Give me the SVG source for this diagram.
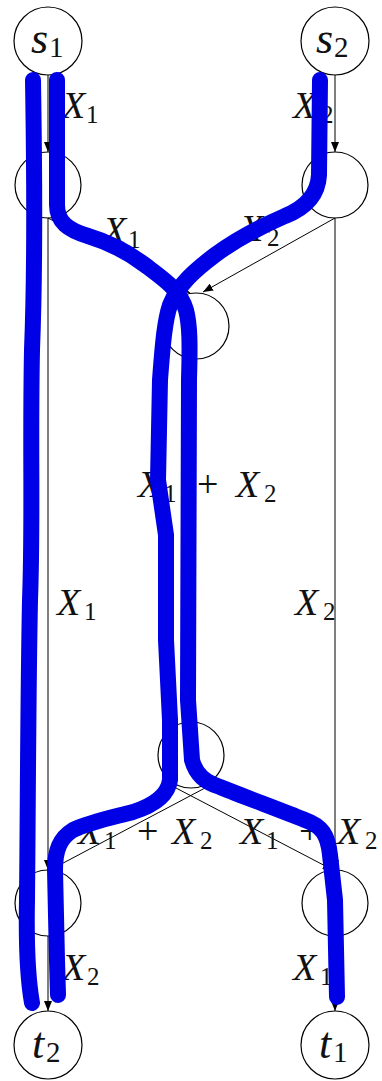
<svg xmlns="http://www.w3.org/2000/svg" width="382" height="1081" viewBox="0 0 382 1081">
<style>
.n{fill:none;stroke:#000;stroke-width:1.2}
.e{fill:none;stroke:#000;stroke-width:1;marker-end:url(#ah)}
text{font-family:'Liberation Serif','Times New Roman',serif;fill:#111}
.v{font-style:italic;font-size:38px}
.s{font-size:25px}
.p{font-size:38px}
.nv{font-style:italic;font-size:44px}
.ns{font-size:29px}
.b{fill:none;stroke:#0000e6;stroke-width:16;stroke-linecap:round;stroke-linejoin:round}
</style>
<defs>
<marker id="ah" markerUnits="userSpaceOnUse" markerWidth="10" markerHeight="8" refX="10" refY="4" orient="auto">
<path d="M0,0 L10,4 L0,8 z" fill="#000"/>
</marker>
</defs>
<rect width="382" height="1081" fill="#fff"/>
<g id="s1"><circle class="n" cx="48" cy="41" r="34"/><text x="31" y="53"><tspan class="nv">s</tspan><tspan class="ns" x="49" y="57">1</tspan></text></g>
<g id="s2"><circle class="n" cx="335" cy="41" r="34"/><text x="316" y="53"><tspan class="nv">s</tspan><tspan class="ns" x="334" y="57">2</tspan></text></g>
<g id="a"><circle class="n" cx="48" cy="185" r="33"/></g>
<g id="b"><circle class="n" cx="335" cy="185" r="33"/></g>
<g id="c"><circle class="n" cx="196" cy="326" r="33"/></g>
<g id="d"><circle class="n" cx="191" cy="755" r="33"/></g>
<g id="e"><circle class="n" cx="48" cy="903" r="33"/></g>
<g id="f"><circle class="n" cx="335" cy="903" r="33"/></g>
<g id="t2"><circle class="n" cx="48" cy="1045" r="34"/><text x="32" y="1058"><tspan class="nv">t</tspan><tspan class="ns" x="46" y="1062">2</tspan></text></g>
<g id="t1"><circle class="n" cx="335" cy="1045" r="34"/><text x="319" y="1058"><tspan class="nv">t</tspan><tspan class="ns" x="333" y="1062">1</tspan></text></g>
<g id="connectors">
<line class="e" x1="48" y1="75" x2="48" y2="152"/>
<line class="e" x1="335" y1="75" x2="335" y2="152"/>
<line class="e" x1="48" y1="218" x2="190" y2="293"/>
<line class="e" x1="335" y1="218" x2="203" y2="292"/>
<line class="e" x1="48" y1="218" x2="48" y2="870"/>
<line class="e" x1="335" y1="218" x2="335" y2="870"/>
<line class="e" x1="196" y1="359" x2="191" y2="722"/>
<line class="e" x1="205" y1="788" x2="50" y2="870"/>
<line class="e" x1="176" y1="788" x2="333" y2="870"/>
<line class="e" x1="48" y1="936" x2="48" y2="1011"/>
<line class="e" x1="335" y1="936" x2="335" y2="1011"/>
<text x="62" y="118"><tspan class="v">X</tspan><tspan class="s" x="86" y="123">1</tspan></text>
<text x="293" y="118"><tspan class="v">X</tspan><tspan class="s" x="321" y="123">2</tspan></text>
<text x="103" y="243"><tspan class="v">X</tspan><tspan class="s" x="128" y="248">1</tspan></text>
<text x="240" y="241"><tspan class="v">X</tspan><tspan class="s" x="267" y="246">2</tspan></text>
<text x="138" y="497"><tspan class="v">X</tspan><tspan class="s" x="164" y="502">1</tspan><tspan class="p" x="197" y="497">+</tspan><tspan class="v" x="236" y="497">X</tspan><tspan class="s" x="264" y="502">2</tspan></text>
<text x="57" y="615"><tspan class="v">X</tspan><tspan class="s" x="84" y="620">1</tspan></text>
<text x="295" y="615"><tspan class="v">X</tspan><tspan class="s" x="323" y="620">2</tspan></text>
<text x="78" y="844"><tspan class="v">X</tspan><tspan class="s" x="104" y="849">1</tspan><tspan class="p" x="137" y="844">+</tspan><tspan class="v" x="172" y="844">X</tspan><tspan class="s" x="200" y="849">2</tspan></text>
<text x="240" y="844"><tspan class="v">X</tspan><tspan class="s" x="266" y="849">1</tspan><tspan class="p" x="299" y="844">+</tspan><tspan class="v" x="337" y="844">X</tspan><tspan class="s" x="365" y="849">2</tspan></text>
<text x="62" y="980"><tspan class="v">X</tspan><tspan class="s" x="87" y="985">2</tspan></text>
<text x="293" y="980"><tspan class="v">X</tspan><tspan class="s" x="320" y="985">1</tspan></text>
</g>
<g id="paths">
<path class="b" d="M33,80 C34,150 36,250 32,350 C30,450 33,520 30,600 C28,700 28,800 27,900 C26,950 28,980 32,1003"/>
<path class="b" d="M57,80 L57,205 C57,222 68,230 88,236 C108,242 125,250 145,265 C165,280 180,290 186,310 C190,325 190,345 189,380 L188,700 L192,760 C196,775 205,782 220,787 C245,797 280,810 305,820 C322,826 328,835 330,855 L335,900 L337,997"/>
<path class="b" d="M320,80 L319,175 C318,195 305,208 285,216 C262,226 238,238 215,255 C195,270 178,285 170,305 C165,320 163,340 160,380 L158,480 L166,535 L166,640 L170,720 L170,780 C168,795 155,805 133,812 C110,818 90,822 73,830 C60,838 55,850 55,870 L57,960 L58,995"/>
</g>
</svg>
